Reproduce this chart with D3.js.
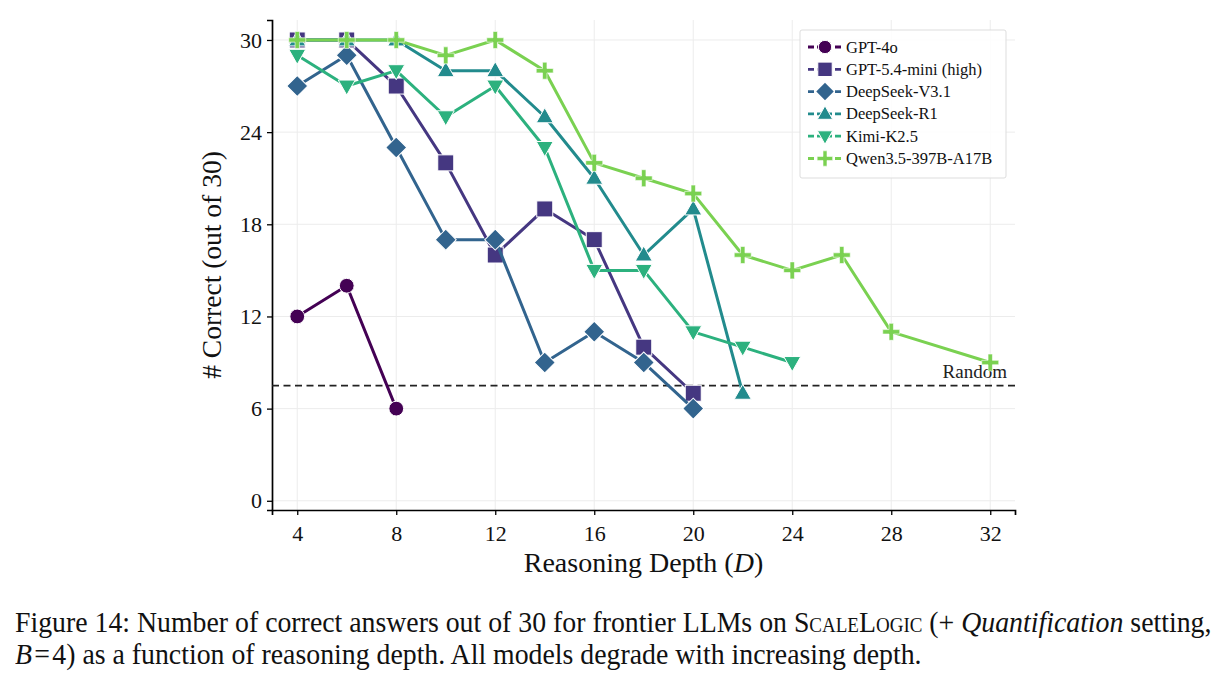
<!DOCTYPE html>
<meta charset="utf-8">
<script src="https://d3js.org/d3.v7.min.js"></script>
<style>
  body { margin: 0; background: #fff; }
  #chart { font-family: "Liberation Serif", "DejaVu Serif", serif; }
  .caption {
    position: absolute; left: 15px; top: 606px; width: 1215px; white-space: nowrap;
    font-family: "Liberation Serif", serif; font-size: 27.8px; line-height: 30px; color: #111;
    transform: scaleY(1.08); transform-origin: 0 0;
  }
  .sc { font-variant: small-caps; }
</style>
<div id="chart"></div>
<div class="caption">Figure 14: Number of correct answers out of 30 for frontier LLMs on <span class="sc">ScaleLogic</span> (+ <i>Quantification</i> setting,<br><i>B</i>&#8202;=&#8202;4) as a function of reasoning depth. All models degrade with increasing depth.</div>
<script>
// data
var models = ["GPT-4o", "GPT-5.4-mini (high)", "DeepSeek-V3.1", "DeepSeek-R1", "Kimi-K2.5", "Qwen3.5-397B-A17B"];
var shapes = ["circle", "square", "diamond", "triangle", "tridown", "plus"];

var depthGpt4o = [4, 6, 8];
var gpt4o = [12, 14, 6];
var depthMini = [4, 6, 8, 10, 12, 14, 16, 18, 20];
var gptMini = [30, 30, 27, 22, 16, 19, 17, 10, 7];
var depthV31 = [4, 6, 8, 10, 12, 14, 16, 18, 20];
var dsV31 = [27, 29, 23, 17, 17, 9, 11, 9, 6];
var depthR1 = [4, 6, 8, 10, 12, 14, 16, 18, 20, 22];
var dsR1 = [30, 30, 30, 28, 28, 25, 21, 16, 19, 7];
var depthKimi = [4, 6, 8, 10, 12, 14, 16, 18, 20, 22, 24];
var kimi = [29, 27, 28, 25, 27, 23, 15, 15, 11, 10, 9];
var depthQwen = [4, 6, 8, 10, 12, 14, 16, 18, 20, 22, 24, 26, 28, 32];
var qwen = [30, 30, 30, 29, 30, 28, 22, 21, 20, 16, 15, 16, 11, 9];

var xTicks = [4, 8, 12, 16, 20, 24, 28, 32];
var yTicks = [0, 6, 12, 18, 24, 30];
var randomLevel = 7.5;

var depths = [depthGpt4o, depthMini, depthV31, depthR1, depthKimi, depthQwen];
var scores = [gpt4o, gptMini, dsV31, dsR1, kimi, qwen];
var series = models.map(function(m, i) {
  return {
    name: m, shape: shapes[i],
    color: d3.interpolateViridis(i * 0.16),
    points: depths[i].map(function(d, j) { return { d: d, v: scores[i][j] }; })
  };
});

var W = 1222, H = 600;
var mLeft = 272, mRight = 1015, mTop = 20, mBottom = 510;

var svg = d3.select("#chart").append("svg").attr("width", W).attr("height", H);

var x = d3.scaleLinear().domain([2.98, 33]).range([mLeft, mRight]);
var y = d3.scaleLinear().domain([-0.6, 31.3]).range([mBottom, mTop]);

// grid
svg.append("g").selectAll("line").data(xTicks).enter().append("line")
  .attr("x1", function(d) { return x(d); }).attr("x2", function(d) { return x(d); })
  .attr("y1", mTop).attr("y2", mBottom)
  .attr("stroke", "#ececec").attr("stroke-width", 1);
svg.append("g").selectAll("line").data(yTicks).enter().append("line")
  .attr("y1", function(d) { return y(d); }).attr("y2", function(d) { return y(d); })
  .attr("x1", mLeft).attr("x2", mRight)
  .attr("stroke", "#ececec").attr("stroke-width", 1);

// axes
var xAxis = svg.append("g").attr("transform", "translate(0," + mBottom + ")")
  .call(d3.axisBottom(x).tickValues(xTicks).tickSizeOuter(0).tickSize(5).tickPadding(10));
var yAxis = svg.append("g").attr("transform", "translate(" + mLeft + ",0)")
  .call(d3.axisLeft(y).tickValues(yTicks).tickSizeOuter(0).tickSize(5).tickPadding(5));
[xAxis, yAxis].forEach(function(a) {
  a.select(".domain").attr("stroke", "#000").attr("stroke-width", 1.7);
  a.selectAll(".tick line").attr("stroke", "#000").attr("stroke-width", 1.3);
  a.selectAll("text").attr("font-family", "Liberation Serif, serif").attr("font-size", 22).attr("fill", "#111");
});

svg.append("text").attr("x", (mLeft + mRight) / 2).attr("y", 572)
  .attr("text-anchor", "middle").attr("font-size", 28).attr("fill", "#111")
  .html('Reasoning Depth (<tspan font-style="italic">D</tspan>)');
svg.append("text").attr("transform", "translate(221," + ((mTop + mBottom) / 2) + ") rotate(-90)")
  .attr("text-anchor", "middle").attr("font-size", 27.5).attr("fill", "#111")
  .text("# Correct (out of 30)");

// random baseline
svg.append("line").attr("x1", mLeft).attr("x2", mRight)
  .attr("y1", y(randomLevel)).attr("y2", y(randomLevel))
  .attr("stroke", "#222").attr("stroke-width", 1.9).attr("stroke-dasharray", "7,4.5");
svg.append("text").attr("x", 1007).attr("y", y(randomLevel) - 8)
  .attr("text-anchor", "end").attr("font-size", 19).attr("fill", "#222").text("Random");

function marker(g, shape, color, s) {
  var p;
  if (shape === "circle") p = g.append("circle").attr("r", 7.4 * s);
  else if (shape === "square") p = g.append("rect").attr("x", -8 * s).attr("y", -8 * s).attr("width", 16 * s).attr("height", 16 * s);
  else if (shape === "diamond") p = g.append("path").attr("d", d3.symbol().type(d3.symbolSquare).size(220 * s * s)()).attr("transform", "rotate(45)");
  else if (shape === "triangle") p = g.append("path").attr("d", "M0," + (-9 * s) + "L" + (8.5 * s) + "," + (6 * s) + "L" + (-8.5 * s) + "," + (6 * s) + "Z");
  else if (shape === "tridown") p = g.append("path").attr("d", "M0," + (9 * s) + "L" + (8.5 * s) + "," + (-6 * s) + "L" + (-8.5 * s) + "," + (-6 * s) + "Z");
  else p = g.append("path").attr("d", "M-8.5,-2.2H-2.2V-8.5H2.2V-2.2H8.5V2.2H2.2V8.5H-2.2V2.2H-8.5Z").attr("transform", "scale(" + s + ")");
  p.attr("fill", color).attr("stroke", "#fff").attr("stroke-width", shape === "plus" ? 0.6 : 1);
}

var line = d3.line().x(function(d) { return x(d.d); }).y(function(d) { return y(d.v); });

series.forEach(function(s) {
  var g = svg.append("g");
  g.append("path").datum(s.points).attr("d", line)
    .attr("fill", "none").attr("stroke", s.color).attr("stroke-width", 3).attr("stroke-linejoin", "round");
  s.points.forEach(function(p) {
    var mg = g.append("g").attr("transform", "translate(" + x(p.d) + "," + y(p.v) + ")");
    marker(mg, s.shape, s.color, 1);
  });
});

// legend
var lg = svg.append("g").attr("transform", "translate(800,30)");
lg.append("rect").attr("width", 206).attr("height", 148).attr("fill", "#fff").attr("fill-opacity", 0.85)
  .attr("stroke", "#ddd").attr("stroke-width", 1).attr("rx", 2);
series.forEach(function(s, i) {
  var row = lg.append("g").attr("transform", "translate(0," + (17 + i * 22.3) + ")");
  row.append("line").attr("x1", 8).attr("x2", 42).attr("stroke", s.color).attr("stroke-width", 2.8).attr("stroke-dasharray", "6,3");
  marker(row.append("g").attr("transform", "translate(25,0)"), s.shape, s.color, 0.9);
  row.append("text").attr("x", 46).attr("y", 5.5).attr("font-size", 16.5).attr("fill", "#111").text(s.name);
});
</script>
